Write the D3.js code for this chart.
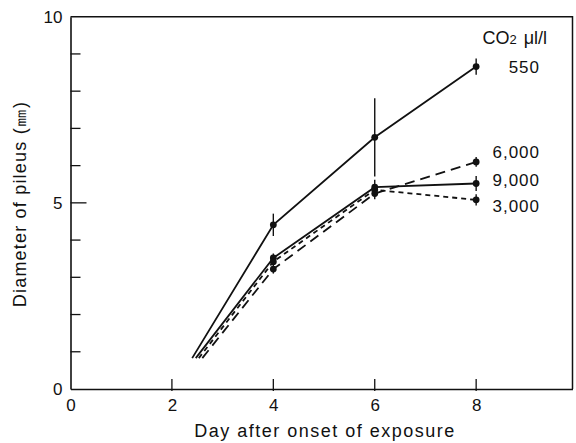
<!DOCTYPE html>
<html>
<head>
<meta charset="utf-8">
<script src="https://cdn.jsdelivr.net/npm/d3@7"></script>
<style>
  html, body { margin: 0; padding: 0; background: #fff; }
  svg text { font-family: "Liberation Sans", Arial, sans-serif; fill: #111; }
</style>
</head>
<body>
<svg id="chart" width="576" height="443"></svg>
<script>
// Pileus diameter over days after onset of CO2 exposure
const days = [2.4, 4, 6, 8];
const seriesNames = ["550", "9,000", "3,000", "6,000"];
const startDays = [2.40, 2.47, 2.53, 2.60];
const values550  = [0.83, 4.41, 6.76, 8.66];
const values9000 = [0.83, 3.52, 5.42, 5.52];
const values3000 = [0.83, 3.42, 5.35, 5.08];
const values6000 = [0.83, 3.22, 5.25, 6.10];
const err550  = [0, 0.30, 1.05, 0.22];
const err9000 = [0, 0.12, 0.20, 0.20];
const err3000 = [0, 0.10, 0.15, 0.15];
const err6000 = [0, 0.12, 0.15, 0.13];
const xTicks = [0, 2, 4, 6, 8];
const yTicks = [0, 5, 10];
const yMinorTicks = [1, 2, 3, 4, 6, 7, 8, 9];

const svg = d3.select("#chart");
const x = d3.scaleLinear().domain([0, 9.9]).range([70.5, 572.5]);
const y = d3.scaleLinear().domain([0, 10]).range([389, 16.7]);

const ink = "#111";
const font = '"Liberation Sans", Arial, sans-serif';

// frame: top and right edges of the plot box
svg.append("path")
  .attr("d", `M${x(0)},${y(10)}H${x(9.9)}V${y(0)}`)
  .attr("fill", "none").attr("stroke", ink).attr("stroke-width", 1.5);

// y axis with inward ticks
const yAxis = svg.append("g").attr("transform", `translate(${x(0)},0)`)
  .call(d3.axisLeft(y).tickValues(yTicks).tickSize(0).tickPadding(8).tickFormat(d3.format("d")));
yAxis.select(".domain").attr("stroke", ink).attr("stroke-width", 1.6);
yAxis.selectAll("text").attr("font-size", 17).attr("fill", ink).attr("font-family", font);
svg.append("g").selectAll("line").data(yMinorTicks).join("line")
  .attr("x1", x(0)).attr("x2", x(0) + 10)
  .attr("y1", d => y(d)).attr("y2", d => y(d))
  .attr("stroke", ink).attr("stroke-width", 1.3);
svg.append("line")
  .attr("x1", x(0)).attr("x2", x(0) + 16)
  .attr("y1", y(5)).attr("y2", y(5))
  .attr("stroke", ink).attr("stroke-width", 1.3);

// x axis with inward ticks
const xAxis = svg.append("g").attr("transform", `translate(0,${y(0)})`)
  .call(d3.axisBottom(x).tickValues(xTicks).tickSize(0).tickPadding(10).tickFormat(d3.format("d")));
xAxis.select(".domain").attr("stroke", ink).attr("stroke-width", 1.6);
xAxis.selectAll("text").attr("font-size", 17).attr("fill", ink).attr("font-family", font);
svg.append("g").selectAll("line").data(xTicks.filter(d => d > 0)).join("line")
  .attr("x1", d => x(d)).attr("x2", d => x(d))
  .attr("y1", y(0) + 2).attr("y2", y(0) - 10)
  .attr("stroke", ink).attr("stroke-width", 1.3);

// axis titles
svg.append("text")
  .attr("x", 325).attr("y", 437)
  .attr("text-anchor", "middle").attr("font-size", 18).attr("letter-spacing", 1.5)
  .text("Day after onset of exposure");
svg.append("text")
  .attr("transform", `translate(26,204) rotate(-90)`)
  .attr("text-anchor", "middle").attr("font-size", 18).attr("letter-spacing", 1.2)
  .text("Diameter of pileus (㎜)");

// series
const series = [
  { name: seriesNames[0], start: startDays[0], vals: values550,  err: err550,  dash: null },
  { name: seriesNames[1], start: startDays[1], vals: values9000, err: err9000, dash: null },
  { name: seriesNames[2], start: startDays[2], vals: values3000, err: err3000, dash: "5,4" },
  { name: seriesNames[3], start: startDays[3], vals: values6000, err: err6000, dash: "10,6" }
];

const line = d3.line().x(d => x(d.day)).y(d => y(d.v));

series.forEach(s => {
  const pts = s.vals.map((v, i) => ({ day: i === 0 ? s.start : days[i], v, e: s.err[i] }));
  svg.append("path").datum(pts)
    .attr("d", line)
    .attr("fill", "none").attr("stroke", ink).attr("stroke-width", 1.8)
    .attr("stroke-dasharray", s.dash);
  const measured = pts.slice(1);
  svg.append("g").selectAll("line").data(measured).join("line")
    .attr("x1", d => x(d.day)).attr("x2", d => x(d.day))
    .attr("y1", d => y(d.v - d.e)).attr("y2", d => y(d.v + d.e))
    .attr("stroke", ink).attr("stroke-width", 1.4);
  svg.append("g").selectAll("circle").data(measured).join("circle")
    .attr("cx", d => x(d.day)).attr("cy", d => y(d.v)).attr("r", 3.4)
    .attr("fill", ink);
});

// series labels at the right end
const labelGap = { "550": 0, "6,000": -10, "9,000": -3, "3,000": 6 };
series.forEach(s => {
  const last = s.vals[s.vals.length - 1];
  svg.append("text")
    .attr("x", 540).attr("y", y(last) + labelGap[s.name] + 6)
    .attr("text-anchor", "end").attr("font-size", 17).attr("letter-spacing", 1)
    .text(s.name);
});

const co2 = svg.append("text").attr("x", 547).attr("y", 44)
  .attr("text-anchor", "end").attr("font-size", 18);
co2.append("tspan").text("CO");
co2.append("tspan").attr("font-size", 13).text("2");
co2.append("tspan").attr("dx", 7).text("μl/l");
</script>
</body>
</html>
